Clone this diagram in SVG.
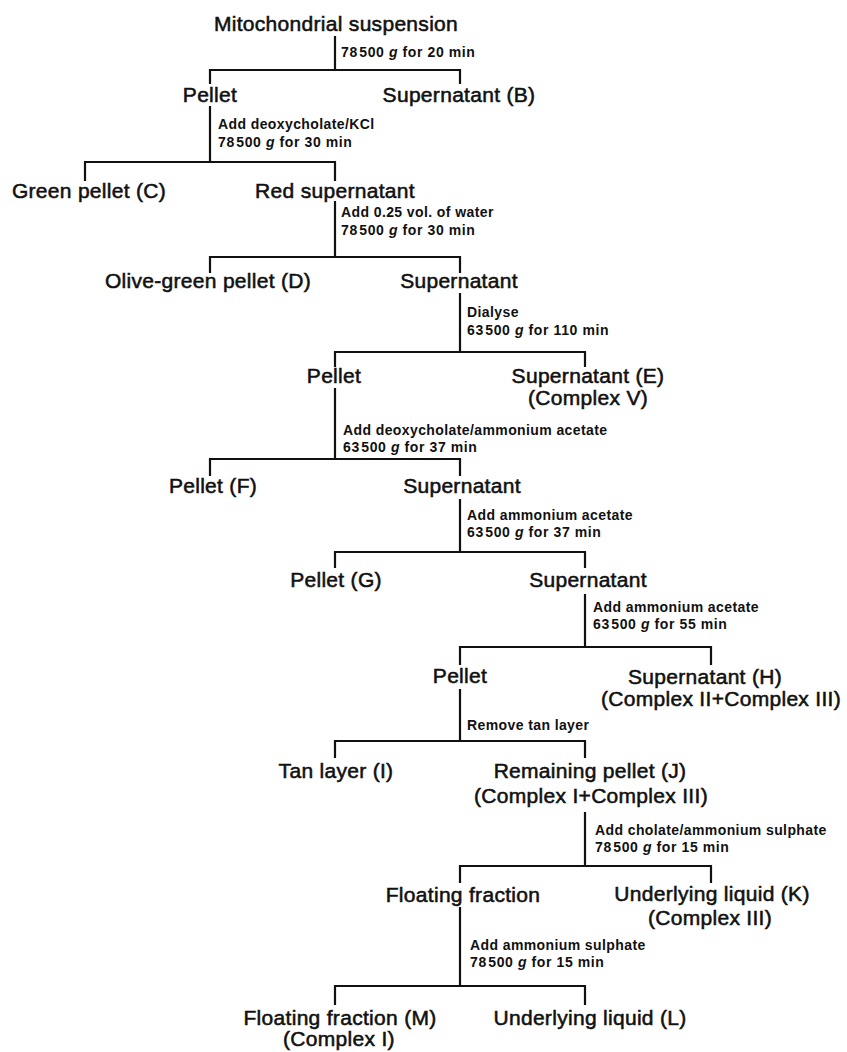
<svg xmlns="http://www.w3.org/2000/svg" width="847" height="1052" viewBox="0 0 847 1052">
<style>
.lbl{font-family:"Liberation Sans",Arial,Helvetica,sans-serif;font-size:21px;letter-spacing:0.3px;text-anchor:middle;fill:#111;stroke:#111;stroke-width:0.55px}
.ann{font-family:"Liberation Sans",Arial,Helvetica,sans-serif;font-size:14px;font-weight:bold;letter-spacing:0.4px;fill:#111}
.num{letter-spacing:0.6px}
.g{font-style:italic}
.con path{fill:none;stroke:#111;stroke-width:2.2;stroke-linecap:square}
</style>
<rect width="847" height="1052" fill="#fff"/>
<g id="connectors" class="con">
<path d="M335 37V70M210 83V70H460V83"/>
<path d="M210 107V162M85 180V162H335V180"/>
<path d="M335 202V257M210 272V257H460V272"/>
<path d="M460 294V352M335 366V352H585V366"/>
<path d="M335 389V459M210 475V459H460V475"/>
<path d="M460 500V552M335 567V552H585V567"/>
<path d="M585 595V647M460 664V647H711V664"/>
<path d="M460 690V741M335 757V741H585V757"/>
<path d="M585 813V866M460 882V866H711V882"/>
<path d="M460 908V986M335 1004V986H585V1004"/>
</g>
<g id="annotations">
<text class="ann num" x="341" y="57">78<tspan dx="1.5">500</tspan> <tspan class="g">g</tspan> for 20 min</text>
<text class="ann" x="218" y="129">Add deoxycholate/KCl</text>
<text class="ann num" x="218" y="147">78<tspan dx="1.5">500</tspan> <tspan class="g">g</tspan> for 30 min</text>
<text class="ann" x="341" y="217">Add 0.25 vol. of water</text>
<text class="ann num" x="341" y="235">78<tspan dx="1.5">500</tspan> <tspan class="g">g</tspan> for 30 min</text>
<text class="ann" x="467" y="317">Dialyse</text>
<text class="ann num" x="467" y="335">63<tspan dx="1.5">500</tspan> <tspan class="g">g</tspan> for 110 min</text>
<text class="ann" x="343" y="435">Add deoxycholate/ammonium acetate</text>
<text class="ann num" x="343" y="452">63<tspan dx="1.5">500</tspan> <tspan class="g">g</tspan> for 37 min</text>
<text class="ann" x="467" y="520">Add ammonium acetate</text>
<text class="ann num" x="467" y="537">63<tspan dx="1.5">500</tspan> <tspan class="g">g</tspan> for 37 min</text>
<text class="ann" x="593" y="612">Add ammonium acetate</text>
<text class="ann num" x="593" y="629">63<tspan dx="1.5">500</tspan> <tspan class="g">g</tspan> for 55 min</text>
<text class="ann" x="467" y="730">Remove tan layer</text>
<text class="ann" x="595" y="835">Add cholate/ammonium sulphate</text>
<text class="ann num" x="595" y="852">78<tspan dx="1.5">500</tspan> <tspan class="g">g</tspan> for 15 min</text>
<text class="ann" x="470" y="950">Add ammonium sulphate</text>
<text class="ann num" x="470" y="967">78<tspan dx="1.5">500</tspan> <tspan class="g">g</tspan> for 15 min</text>
</g>
<g id="n-mito"><text class="lbl" x="336" y="31">Mitochondrial suspension</text></g>
<g id="n-pellet1"><text class="lbl" x="210" y="102">Pellet</text></g>
<g id="n-supB"><text class="lbl" x="459" y="102">Supernatant (B)</text></g>
<g id="n-greenC"><text class="lbl" x="89" y="198">Green pellet (C)</text></g>
<g id="n-red"><text class="lbl" x="335" y="198">Red supernatant</text></g>
<g id="n-oliveD"><text class="lbl" x="208" y="288">Olive-green pellet (D)</text></g>
<g id="n-sup2"><text class="lbl" x="459" y="288">Supernatant</text></g>
<g id="n-pellet2"><text class="lbl" x="334" y="383">Pellet</text></g>
<g id="n-supE"><text class="lbl" x="588" y="383">Supernatant (E)</text><text class="lbl" x="588" y="405">(Complex V)</text></g>
<g id="n-pelletF"><text class="lbl" x="213" y="493">Pellet (F)</text></g>
<g id="n-sup3"><text class="lbl" x="462" y="493">Supernatant</text></g>
<g id="n-pelletG"><text class="lbl" x="336" y="587">Pellet (G)</text></g>
<g id="n-sup4"><text class="lbl" x="588" y="587">Supernatant</text></g>
<g id="n-pellet3"><text class="lbl" x="460" y="683">Pellet</text></g>
<g id="n-supH"><text class="lbl" x="705" y="684">Supernatant (H)</text><text class="lbl" x="721" y="706">(Complex II+Complex III)</text></g>
<g id="n-tanI"><text class="lbl" x="336" y="778">Tan layer (I)</text></g>
<g id="n-remJ"><text class="lbl" x="590" y="778">Remaining pellet (J)</text><text class="lbl" x="591" y="803">(Complex I+Complex III)</text></g>
<g id="n-float"><text class="lbl" x="463" y="902">Floating fraction</text></g>
<g id="n-undK"><text class="lbl" x="712" y="901">Underlying liquid (K)</text><text class="lbl" x="710" y="925">(Complex III)</text></g>
<g id="n-floatM"><text class="lbl" x="340" y="1025">Floating fraction (M)</text><text class="lbl" x="339" y="1046">(Complex I)</text></g>
<g id="n-undL"><text class="lbl" x="590" y="1025">Underlying liquid (L)</text></g>
</svg>
